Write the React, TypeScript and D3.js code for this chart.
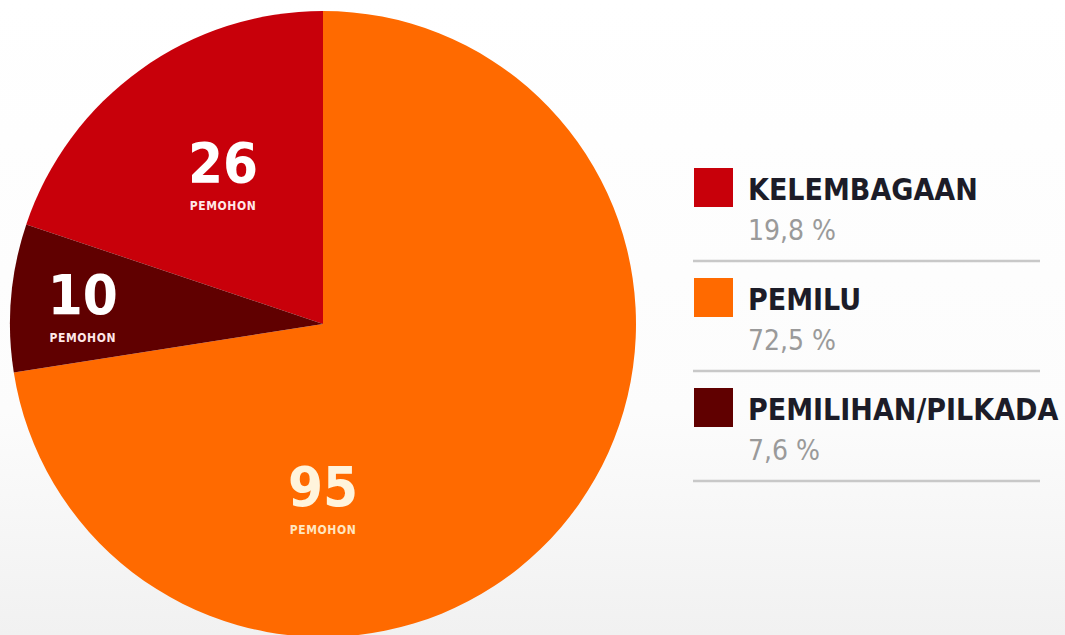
import React, { useRef, useEffect } from "react";
import * as d3 from "d3";

const categories = ["KELEMBAGAAN", "PEMILU", "PEMILIHAN/PILKADA"];
const counts = [26, 95, 10];
const percents = ["19,8 %", "72,5 %", "7,6 %"];
const colors = ["#c8000a", "#ff6a00", "#600000"];
const unitLabel = "PEMOHON";

const width = 1065;
const height = 635;

export default function App() {
  const svgRef = useRef<SVGSVGElement | null>(null);

  useEffect(() => {
    document.body.style.margin = "0";
    const svg = d3.select(svgRef.current);
    svg.selectAll("*").remove();

    // background
    const defs = svg.append("defs");
    const grad = defs
      .append("linearGradient")
      .attr("id", "bg")
      .attr("x1", 0)
      .attr("y1", 0)
      .attr("x2", 0)
      .attr("y2", 1);
    grad.append("stop").attr("offset", "0%").attr("stop-color", "#ffffff");
    grad.append("stop").attr("offset", "65%").attr("stop-color", "#fcfcfc");
    grad.append("stop").attr("offset", "100%").attr("stop-color", "#f1f1f1");
    svg.append("rect").attr("width", width).attr("height", height).attr("fill", "url(#bg)");

    const cx = 323;
    const cy = 324;
    const radius = 313;

    const total = d3.sum(counts);
    const start = (-counts[0] / total) * 2 * Math.PI;
    const pie = d3
      .pie<number>()
      .sort(null)
      .startAngle(start)
      .endAngle(start + 2 * Math.PI);
    const arcs = pie(counts);
    const arc = d3.arc<d3.PieArcDatum<number>>().innerRadius(0).outerRadius(radius);

    const g = svg.append("g").attr("transform", `translate(${cx},${cy})`);
    g.selectAll("path")
      .data(arcs)
      .join("path")
      .attr("d", arc)
      .attr("fill", (_, i) => colors[i]);

    // label placement: angle (mid of slice, or straight down for the big one) and radius
    const labelPos = arcs.map((a, i) => {
      const mid = (a.startAngle + a.endAngle) / 2;
      if (i === 1) return [0, 0.55 * radius];
      const r = i === 0 ? 0.58 * radius : 0.77 * radius;
      const m = i === 0 ? mid + 0.04 : mid;
      return [Math.sin(m) * r, -Math.cos(m) * r];
    });

    const font = "'DejaVu Sans Condensed', 'DejaVu Sans', sans-serif";
    const lg = g.selectAll("g.lbl").data(arcs).join("g").attr("class", "lbl")
      .attr("transform", (_, i) => `translate(${labelPos[i][0]},${labelPos[i][1]})`);
    lg.append("text")
      .attr("text-anchor", "middle")
      .attr("y", 10)
      .attr("fill", (_, i) => (i === 1 ? "#fff4dc" : "#ffffff"))
      .style("font-family", font)
      .style("font-stretch", "condensed")
      .style("font-weight", "bold")
      .style("font-size", "56px")
      .text((d) => d.data);
    lg.append("text")
      .attr("text-anchor", "middle")
      .attr("y", 38)
      .attr("fill", (_, i) => (i === 1 ? "#ffe6c0" : "#ffe8e8"))
      .style("font-family", font)
      .style("font-stretch", "condensed")
      .style("font-weight", "bold")
      .style("font-size", "12px")
      .style("letter-spacing", "0.6px")
      .text(unitLabel);

    // legend
    const legend = svg.append("g").attr("transform", "translate(694,168)");
    const rowH = 110;
    const rows = legend
      .selectAll("g")
      .data(categories)
      .join("g")
      .attr("transform", (_, i) => `translate(0,${i * rowH})`);
    rows.append("rect").attr("width", 39).attr("height", 39).attr("fill", (_, i) => colors[i]);
    rows.append("text")
      .attr("x", 54)
      .attr("y", 32)
      .attr("fill", "#1c1c28")
      .style("font-family", font)
      .style("font-stretch", "condensed")
      .style("font-weight", "bold")
      .style("font-size", "30px")
      .text((d) => d);
    rows.append("text")
      .attr("x", 54)
      .attr("y", 72)
      .attr("fill", "#9a9a9a")
      .style("font-family", font)
      .style("font-stretch", "condensed")
      .style("font-size", "28px")
      .text((_, i) => percents[i]);
    rows.append("line")
      .attr("x1", -1)
      .attr("x2", 346)
      .attr("y1", 93)
      .attr("y2", 93)
      .attr("stroke", "#c8c8c8")
      .attr("stroke-width", 2.5);
  }, []);

  return <svg ref={svgRef} width={width} height={height} style={{ display: "block" }} />;
}
